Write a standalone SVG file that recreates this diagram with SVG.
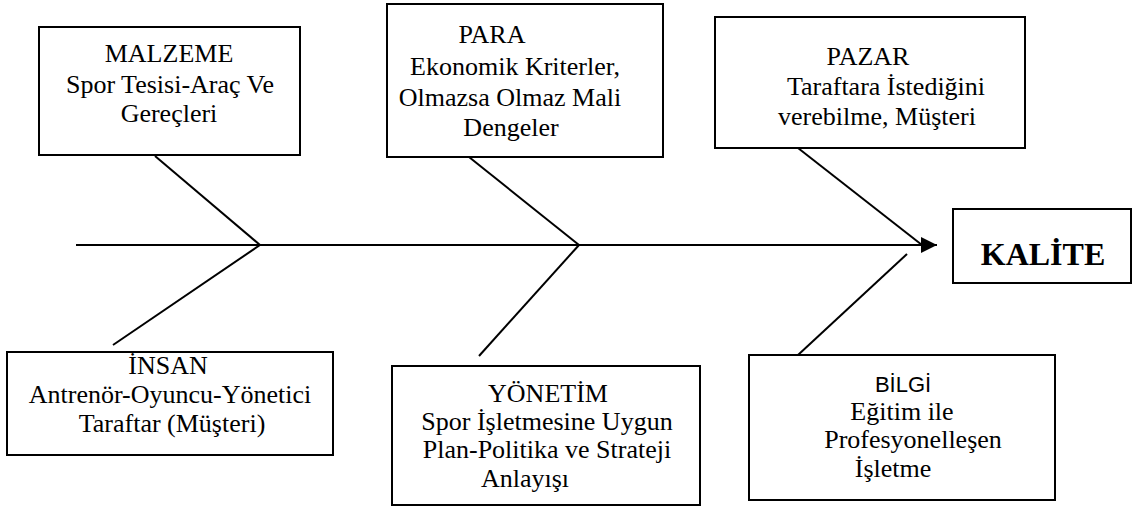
<svg xmlns="http://www.w3.org/2000/svg" width="1135" height="512" viewBox="0 0 1135 512">
<defs>
<style>
.box{fill:#fff;stroke:#000;stroke-width:2}
.t{font-family:"Liberation Serif","Times New Roman",serif;font-size:26px;fill:#000;text-anchor:middle}
.s{font-family:"Liberation Sans",Arial,sans-serif;font-size:22px;fill:#000;text-anchor:middle}
.k{font-family:"Liberation Serif","Times New Roman",serif;font-size:32px;font-weight:bold;fill:#000;text-anchor:middle}
.ln{stroke:#000;stroke-width:2;fill:none}
</style>
<marker id="ah" markerUnits="userSpaceOnUse" markerWidth="18" markerHeight="18" refX="16" refY="8" orient="auto">
<path d="M0,0 L16,8 L0,16 Z" fill="#000"/>
</marker>
</defs>
<rect width="1135" height="512" fill="#fff"/>
<g id="connectors">
<line class="ln" x1="76" y1="245" x2="937" y2="245" marker-end="url(#ah)"/>
<line class="ln" x1="155" y1="156" x2="260" y2="245"/>
<line class="ln" x1="260" y1="245" x2="113" y2="345"/>
<line class="ln" x1="469" y1="157" x2="579" y2="245"/>
<line class="ln" x1="579" y1="245" x2="479" y2="356"/>
<line class="ln" x1="798" y1="148" x2="922" y2="245"/>
<line class="ln" x1="798" y1="355" x2="907" y2="254"/>
</g>
<g id="malzeme">
<rect class="box" x="39" y="27" width="261" height="128"/>
<text class="t" x="169" y="62">MALZEME</text>
<text class="t" x="170" y="93">Spor Tesisi-Araç Ve</text>
<text class="t" x="169" y="122">Gereçleri</text>
</g>
<g id="para">
<rect class="box" x="387" y="4" width="276" height="153"/>
<text class="t" x="492" y="43">PARA</text>
<text class="t" x="515" y="75">Ekonomik Kriterler,</text>
<text class="t" x="510" y="106">Olmazsa Olmaz Mali</text>
<text class="t" x="511" y="136">Dengeler</text>
</g>
<g id="pazar">
<rect class="box" x="715" y="17" width="310" height="131"/>
<text class="t" x="868" y="65">PAZAR</text>
<text class="t" x="886" y="95">Taraftara İstediğini</text>
<text class="t" x="877" y="125">verebilme, Müşteri</text>
</g>
<g id="kalite">
<rect class="box" x="953" y="209" width="178" height="74"/>
<text class="k" x="1043" y="265">KALİTE</text>
</g>
<g id="insan">
<rect class="box" x="7" y="352" width="326" height="103"/>
<text class="t" x="168" y="374">İNSAN</text>
<text class="t" x="170" y="403">Antrenör-Oyuncu-Yönetici</text>
<text class="t" x="172" y="432">Taraftar (Müşteri)</text>
</g>
<g id="yonetim">
<rect class="box" x="392" y="366" width="308" height="139"/>
<text class="t" x="548" y="402">YÖNETİM</text>
<text class="t" x="547" y="430">Spor İşletmesine Uygun</text>
<text class="t" x="547" y="458">Plan-Politika ve Strateji</text>
<text class="t" x="525" y="487">Anlayışı</text>
</g>
<g id="bilgi">
<rect class="box" x="749" y="355" width="306" height="145"/>
<text class="s" x="903" y="392">BİLGİ</text>
<text class="t" x="902" y="420">Eğitim ile</text>
<text class="t" x="913" y="448">Profesyonelleşen</text>
<text class="t" x="893" y="477">İşletme</text>
</g>
</svg>
